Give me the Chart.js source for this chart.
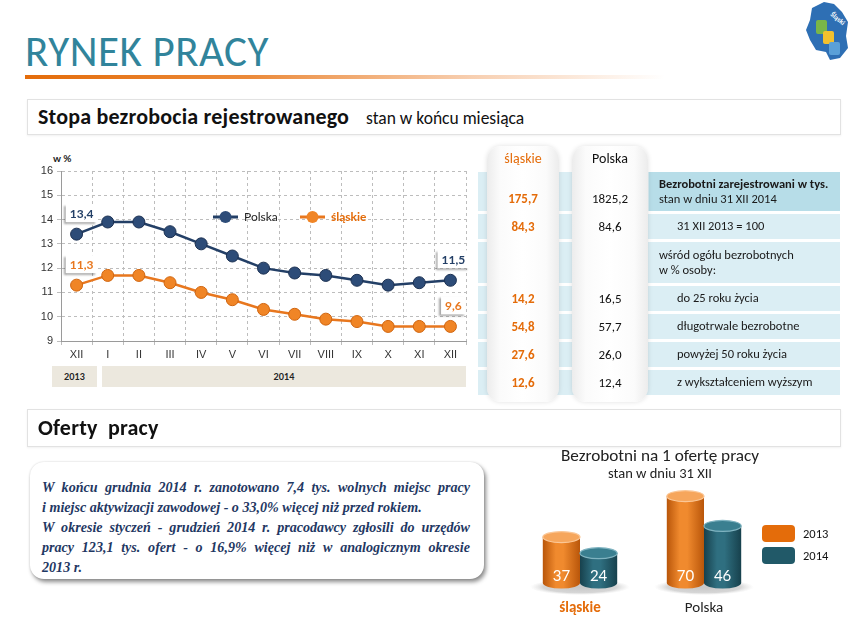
<!DOCTYPE html>
<html lang="pl">
<head>
<meta charset="utf-8">
<title>Rynek pracy</title>
<script src="https://cdn.jsdelivr.net/npm/chart.js@4.4.1/dist/chart.umd.min.js"></script>
<style>
  html, body { margin: 0; padding: 0; }
  body {
    width: 852px; height: 621px; position: relative; overflow: hidden;
    background: #fff; font-family: Carlito, Lato, "Open Sans", sans-serif; color: #111;
  }
  .abs { position: absolute; }
  .title {
    left: 25px; top: 26px; font-size: 43px; line-height: 52px; color: #31849b; letter-spacing: 0.5px;
    white-space: nowrap; font-weight: 400;
  }
  .rule {
    left: 25px; top: 75px; width: 640px; height: 4px;
    background: linear-gradient(to right, #e46c0a 0%, #eb8a3a 35%, rgba(240,160,100,0.5) 70%, rgba(255,255,255,0) 100%);
  }
  .section {
    left: 27px; width: 812px; border: 1px solid #e2e2e2; background: #fff;
    box-shadow: 0 1px 2px rgba(0,0,0,0.06);
  }
  .section b { font-size: 22px; position: absolute; left: 10px; letter-spacing: 0.2px; }
  .section span { font-size: 17.5px; position: absolute; }
  .yearbox {
    background: #ece8de; font: bold 9px Lato, sans-serif; color: #222;
    display: flex; align-items: center; justify-content: center; height: 21px; top: 366px;
  }
  .row { left: 478px; width: 362px; background: #dbeef4; }
  .pillar {
    top: 146px; height: 256px; border-radius: 14px;
    background: linear-gradient(to right, #ececec 0%, #fbfbfb 18%, #fff 50%, #fbfbfb 82%, #ececec 100%);
    box-shadow: 0 0 5px rgba(0,0,0,0.12);
  }
  .pv { font-size: 13px; text-align: center; }
  .lab { font-size: 12.5px; color: #1a1a1a; line-height: 15px; }
  .note {
    left: 30px; top: 462px; width: 454px; height: 117px; border-radius: 14px; background: #fff;
    box-shadow: 2px 3px 4px rgba(0,0,0,0.45), 0 0 2px rgba(0,0,0,0.15);
    font: italic bold 14.1px "Liberation Serif", "DejaVu Serif", serif; color: #1f3863;
  }
  .note div { position: absolute; left: 12px; width: 428px; white-space: nowrap; }
  .note .j { text-align: justify; text-align-last: justify; white-space: normal; }
  .lg { width: 33px; height: 17px; border-radius: 4px; left: 762px; }
  .lgt { left: 803px; font-size: 12.5px; }
</style>
</head>
<body>

<!-- logo -->
<svg class="abs" style="left:804px; top:0px" width="46" height="62" viewBox="0 0 46 62">
  <polygon points="8,8 20,2 30,4 38,12 44,22 42,36 44,48 36,58 26,60 22,52 12,50 6,40 2,30 6,20" fill="#2e6fb4"/>
  <rect x="12" y="20" width="11" height="14" rx="2" fill="#7ab648"/>
  <rect x="19" y="31" width="11" height="13" rx="2" fill="#f2c12e"/>
  <rect x="25" y="42" width="11" height="13" rx="2" fill="#5aa0d8"/>
  <text x="26" y="15" font-size="7" font-weight="bold" fill="#ffffff" transform="rotate(40 26 15)">Śląski</text>
</svg>

<div class="abs title">RYNEK PRACY</div>
<div class="abs rule"></div>

<div class="abs section" style="top:99px; height:34px;">
  <b style="top:3px;">Stopa bezrobocia rejestrowanego</b>
  <span style="left:338px; top:7px;">stan w końcu miesiąca</span>
</div>

<div class="abs" style="left:53px; top:152px; font:bold 10px Lato, sans-serif; color:#222;">w %</div>
<canvas id="lineChart" class="abs" style="left:20px; top:150px;"></canvas>
<div class="abs yearbox" style="left:52px; width:45px;">2013</div>
<div class="abs yearbox" style="left:102px; width:364px;">2014</div>

<div id="table"></div>

<div class="abs section" style="top:409px; height:36px;">
  <b style="top:4px;">Oferty&nbsp; pracy</b>
</div>

<div class="abs note">
  <div class="j" style="top:17px;">W końcu grudnia 2014 r. zanotowano 7,4 tys. wolnych miejsc pracy</div>
  <div style="top:37px;">i miejsc aktywizacji zawodowej - o 33,0% więcej niż przed rokiem.</div>
  <div class="j" style="top:57px;">W okresie styczeń - grudzień 2014 r. pracodawcy zgłosili do urzędów</div>
  <div class="j" style="top:77px;">pracy 123,1 tys. ofert - o 16,9% więcej niż w analogicznym okresie</div>
  <div style="top:97px;">2013 r.</div>
</div>

<div class="abs" style="left:520px; top:445px; width:280px; text-align:center; font-size:17.2px; color:#222;">Bezrobotni na 1 ofertę pracy</div>
<div class="abs" style="left:520px; top:464px; width:280px; text-align:center; font-size:14.5px; color:#222;">stan w dniu 31 XII</div>
<canvas id="barChart" class="abs" style="left:510px; top:480px;"></canvas>
<div class="abs lg" style="top:525px; background:#e46c0a;"></div>
<div class="abs lg" style="top:547px; background:#215968;"></div>
<div class="abs lgt" style="top:526px;">2013</div>
<div class="abs lgt" style="top:548px;">2014</div>

<script>
// --- line chart data: stopa bezrobocia (w %) ---
const months = ['XII', 'I', 'II', 'III', 'IV', 'V', 'VI', 'VII', 'VIII', 'IX', 'X', 'XI', 'XII'];
const polskaRate = [13.4, 13.9, 13.9, 13.5, 13.0, 12.5, 12.0, 11.8, 11.7, 11.5, 11.3, 11.4, 11.5];
const slaskieRate = [11.3, 11.7, 11.7, 11.4, 11.0, 10.7, 10.3, 10.1, 9.9, 9.8, 9.6, 9.6, 9.6];
const rateTicks = [9, 10, 11, 12, 13, 14, 15, 16];

// --- table data ---
const tableLabels = [
    ['Bezrobotni zarejestrowani w tys.', 'stan w dniu 31 XII 2014'],
    ['31 XII 2013 = 100'],
    ['wśród ogółu bezrobotnych', 'w % osoby:'],
    ['do 25 roku życia'],
    ['długotrwale bezrobotne'],
    ['powyżej 50 roku życia'],
    ['z wykształceniem wyższym']
];
const tableSlaskie = [175.7, 84.3, null, 14.2, 54.8, 27.6, 12.6];
const tablePolska = [1825.2, 84.6, null, 16.5, 57.7, 26.0, 12.4];

// --- bar chart data: bezrobotni na 1 ofertę pracy ---
const regions = ['śląskie', 'Polska'];
const offers2013 = [37, 70];
const offers2014 = [24, 46];

const fmt = v => v.toFixed(1).replace('.', ',');
const NAVY = '#233f66';
const ORANGE = '#e8771e';

// Build the table
const rowTops = [172, 214, 242, 286, 314, 342, 370];
const rowHeights = [39, 25, 41, 25, 25, 25, 25];
const table = document.getElementById('table');
let html = '';
rowTops.forEach((top, i) => {
    html += `<div class="abs row" style="top:${top}px; height:${rowHeights[i]}px;"></div>`;
    html += `<div class="abs" style="left:649px; width:191px; top:${top}px; height:${rowHeights[i]}px; background:${i === 0 ? '#b7dde8' : '#dbeef4'};"></div>`;
});
html += '<div class="abs pillar" style="left:487px; width:72px;"></div>';
html += '<div class="abs pillar" style="left:572px; width:76px;"></div>';
html += `<div class="abs pv" style="left:487px; width:72px; top:150px; font-size:14px; color:#e46c0a;">śląskie</div>`;
html += `<div class="abs pv" style="left:572px; width:76px; top:150px; font-size:14px;">Polska</div>`;
rowTops.forEach((top, i) => {
    const h = rowHeights[i];
    const vTop = i === 0 ? top + 19 : top + (h - 16) / 2;
    if (tableSlaskie[i] !== null) {
        html += `<div class="abs pv" style="left:487px; width:72px; top:${vTop}px; color:#e46c0a; font-weight:bold;">${fmt(tableSlaskie[i])}</div>`;
        html += `<div class="abs pv" style="left:572px; width:76px; top:${vTop}px;">${fmt(tablePolska[i])}</div>`;
    }
    const lines = tableLabels[i];
    const indent = (i === 0 || i === 2) ? 659 : 677;
    const lTop = top + (h - lines.length * 15) / 2 - 1;
    const txt = lines.map((t, k) => (i === 0 && k === 0) ? `<b>${t}</b>` : t).join('<br>');
    html += `<div class="abs lab" style="left:${indent}px; top:${lTop}px;">${txt}</div>`;
});
table.innerHTML = html;

// Plugins for the line chart
const endLabels = {
    id: 'endLabels',
    afterDatasetsDraw(chart) {
        const { ctx } = chart;
        chart.data.datasets.forEach((ds, di) => {
            const meta = chart.getDatasetMeta(di);
            [0, ds.data.length - 1].forEach(idx => {
                const pt = meta.data[idx];
                const text = fmt(ds.data[idx]);
                ctx.save();
                ctx.font = 'bold 12px Lato, sans-serif';
                const w = ctx.measureText(text).width + 8;
                const h = 18;
                const cx = pt.x + (idx === 0 ? 5 : 3);
                const cy = pt.y - 21;
                ctx.shadowColor = 'rgba(0,0,0,0.35)';
                ctx.shadowOffsetX = -2;
                ctx.shadowOffsetY = 2;
                ctx.shadowBlur = 2;
                ctx.fillStyle = '#fff';
                ctx.fillRect(cx - w / 2, cy - h / 2, w, h);
                ctx.shadowColor = 'transparent';
                ctx.fillStyle = ds.borderColor;
                ctx.textAlign = 'center';
                ctx.textBaseline = 'middle';
                ctx.fillText(text, cx, cy + 1);
                ctx.restore();
            });
        });
    }
};

const innerLegend = {
    id: 'innerLegend',
    afterDraw(chart) {
        const { ctx, chartArea } = chart;
        const y = chartArea.top + 46;
        const starts = [chartArea.left + 152, chartArea.left + 239];
        chart.data.datasets.forEach((ds, i) => {
            const x = starts[i];
            ctx.save();
            ctx.strokeStyle = ds.borderColor;
            ctx.lineWidth = 3;
            ctx.beginPath();
            ctx.moveTo(x, y);
            ctx.lineTo(x + 25, y);
            ctx.stroke();
            ctx.fillStyle = ds.pointBackgroundColor;
            ctx.beginPath();
            ctx.arc(x + 12.5, y, 6, 0, Math.PI * 2);
            ctx.fill();
            ctx.font = (i === 1 ? 'bold ' : '') + '12px Lato, sans-serif';
            ctx.fillStyle = i === 1 ? '#e46c0a' : '#222';
            ctx.textBaseline = 'middle';
            ctx.fillText(ds.label, x + 31, y);
            ctx.restore();
        });
    }
};

const lineCanvas = document.getElementById('lineChart');
lineCanvas.width = 460;
lineCanvas.height = 213;
new Chart(lineCanvas, {
    type: 'line',
    data: {
        labels: months,
        datasets: [
            {
                label: 'Polska', data: polskaRate, borderColor: NAVY, borderWidth: 2.5,
                pointRadius: 6, pointBackgroundColor: '#2d4c78', pointBorderColor: '#1c3152', pointBorderWidth: 1
            },
            {
                label: 'śląskie', data: slaskieRate, borderColor: ORANGE, borderWidth: 2.5,
                pointRadius: 6, pointBackgroundColor: '#f08526', pointBorderColor: '#d0650f', pointBorderWidth: 1
            }
        ]
    },
    options: {
        responsive: false,
        animation: false,
        events: [],
        layout: { padding: { top: 21, right: 14, left: 0, bottom: 0 } },
        plugins: { legend: { display: false }, tooltip: { enabled: false } },
        elements: { line: { tension: 0 } },
        scales: {
            x: {
                offset: true,
                grid: { offset: true, color: '#bdbdbd', tickLength: 4 },
                border: { color: '#9a9a9a', dash: [3, 3] },
                ticks: { color: '#333', font: { size: 11, family: 'Liberation Sans' }, padding: 3, maxRotation: 0, autoSkip: false },
                afterFit: axis => { axis.height = 22; }
            },
            y: {
                min: 9, max: 16,
                afterBuildTicks: axis => { axis.ticks = rateTicks.map(v => ({ value: v })); },
                grid: { color: '#bdbdbd', tickLength: 4 },
                border: { color: '#9a9a9a', dash: [3, 3] },
                ticks: { color: '#333', font: { size: 11, family: 'Liberation Sans' }, padding: 4 },
                afterFit: axis => { axis.width = 41; }
            }
        }
    },
    plugins: [endLabels, innerLegend]
});

// Bar chart drawn as cylinders from the bar elements
const cylinders = {
    id: 'cylinders',
    beforeDatasetsDraw(chart) {
        const { ctx } = chart;
        const xs = chart.scales.x;
        const base = chart.scales.y.getPixelForValue(0);
        regions.forEach((r, i) => {
            const cx = xs.getPixelForValue(i);
            ctx.save();
            ctx.translate(cx, base + 4);
            ctx.scale(1, 0.16);
            const g = ctx.createRadialGradient(0, 0, 5, 0, 0, 50);
            g.addColorStop(0, '#c9c9c9');
            g.addColorStop(0.7, '#d6d6d6');
            g.addColorStop(1, 'rgba(230,230,230,0)');
            ctx.fillStyle = g;
            ctx.beginPath();
            ctx.arc(0, 0, 50, 0, Math.PI * 2);
            ctx.fill();
            ctx.restore();
        });
    },
    afterDatasetsDraw(chart) {
        const { ctx } = chart;
        const palettes = [
            { dark: '#b9560a', mid: '#f08a2e', top: '#f6a65c', edge: '#fbc796' },
            { dark: '#17414d', mid: '#2f6f80', top: '#3a7f90', edge: '#7fb3c0' }
        ];
        chart.data.datasets.forEach((ds, di) => {
            const meta = chart.getDatasetMeta(di);
            const p = palettes[di];
            meta.data.forEach((bar, i) => {
                const { x, y, base, width } = bar.getProps(['x', 'y', 'base', 'width'], true);
                const rx = width / 2;
                const ry = 5.5;
                const g = ctx.createLinearGradient(x - rx, 0, x + rx, 0);
                g.addColorStop(0, p.dark);
                g.addColorStop(0.35, p.mid);
                g.addColorStop(0.55, p.mid);
                g.addColorStop(1, p.dark);
                ctx.save();
                ctx.fillStyle = g;
                ctx.beginPath();
                ctx.moveTo(x - rx, y);
                ctx.lineTo(x - rx, base);
                ctx.ellipse(x, base, rx, ry, 0, Math.PI, 0, true);
                ctx.lineTo(x + rx, y);
                ctx.closePath();
                ctx.fill();
                ctx.fillStyle = p.top;
                ctx.strokeStyle = p.edge;
                ctx.lineWidth = 1.2;
                ctx.beginPath();
                ctx.ellipse(x, y, rx, ry, 0, 0, Math.PI * 2);
                ctx.fill();
                ctx.stroke();
                ctx.fillStyle = '#fff';
                ctx.font = '15px Lato, sans-serif';
                ctx.textAlign = 'center';
                ctx.textBaseline = 'middle';
                ctx.fillText(String(ds.data[i]), x, base - 7);
                ctx.restore();
            });
        });
    }
};

const barCanvas = document.getElementById('barChart');
barCanvas.width = 260;
barCanvas.height = 140;
new Chart(barCanvas, {
    type: 'bar',
    data: {
        labels: regions,
        datasets: [
            { label: '2013', data: offers2013, backgroundColor: 'rgba(0,0,0,0)' },
            { label: '2014', data: offers2014, backgroundColor: 'rgba(0,0,0,0)' }
        ]
    },
    options: {
        responsive: false,
        animation: false,
        events: [],
        layout: { padding: { left: 8, right: 4, top: 0, bottom: 0 } },
        plugins: { legend: { display: false }, tooltip: { enabled: false } },
        datasets: { bar: { categoryPercentage: 0.6, barPercentage: 1.0 } },
        scales: {
            x: {
                grid: { display: false, drawTicks: false },
                border: { display: false },
                ticks: {
                    padding: 16,
                    color: c => c.index === 0 ? '#e46c0a' : '#222',
                    font: c => ({ size: 15, family: 'Carlito, Lato, sans-serif', weight: c.index === 0 ? 'bold' : 'normal' })
                },
                afterFit: axis => { axis.height = 37; }
            },
            y: { display: false, min: 0, max: 83 }
        }
    },
    plugins: [cylinders]
});
</script>
</body>
</html>
